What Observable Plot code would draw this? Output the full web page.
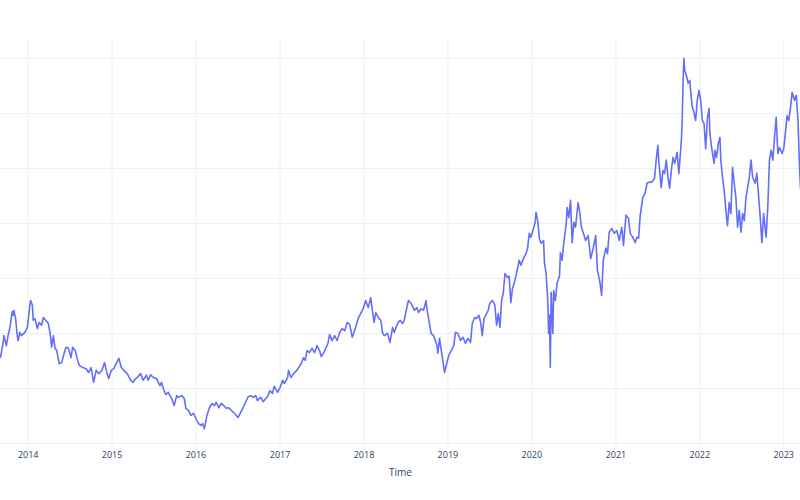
<!DOCTYPE html>
<html>
<head>
<meta charset="utf-8">
<script src="https://cdn.jsdelivr.net/npm/d3@7"></script>
<script src="https://cdn.jsdelivr.net/npm/@observablehq/plot@0.6"></script>
<style>
  html, body { margin: 0; padding: 0; background: #ffffff; }
  #chart svg { display: block; }
</style>
</head>
<body>
<div id="chart"></div>
<script>
// Time as decimal years
const times = [
  2013.67,2013.70,2013.71,2013.74,2013.76,2013.78,2013.81,2013.82,2013.83,2013.85,2013.87,2013.88,2013.90,2013.92,2013.96,2013.99,
  2014.02,2014.03,2014.05,2014.06,2014.08,2014.11,2014.13,2014.16,2014.18,2014.21,2014.24,2014.26,2014.28,2014.30,2014.32,2014.34,
  2014.37,2014.40,2014.43,2014.45,2014.48,2014.51,2014.53,2014.56,2014.59,2014.61,2014.65,2014.69,2014.72,2014.75,2014.78,2014.81,
  2014.84,2014.88,2014.91,2014.94,2014.96,2014.99,2015.02,2015.05,2015.08,2015.11,2015.14,2015.18,2015.22,2015.25,2015.28,2015.30,
  2015.34,2015.37,2015.41,2015.43,2015.46,2015.49,2015.53,2015.57,2015.59,2015.61,2015.64,2015.67,
  2015.69,2015.71,2015.74,2015.77,2015.79,2015.83,2015.86,2015.88,2015.91,2015.94,2015.97,2016.00,2016.03,2016.06,2016.08,2016.10,
  2016.13,2016.16,2016.19,2016.22,2016.24,2016.27,2016.30,2016.33,2016.36,2016.39,2016.42,2016.45,2016.48,2016.50,2016.53,2016.56,
  2016.59,2016.62,2016.65,2016.68,2016.71,2016.73,2016.77,2016.80,2016.83,2016.85,2016.88,2016.91,2016.93,2016.97,2017.00,2017.03,
  2017.05,2017.09,2017.10,2017.13,2017.16,2017.20,2017.22,2017.25,2017.28,2017.30,2017.32,2017.35,2017.38,2017.41,2017.44,2017.47,
  2017.49,2017.52,2017.55,2017.57,2017.59,
  2017.62,2017.65,2017.68,2017.71,2017.74,2017.77,2017.80,2017.83,2017.86,2017.90,2017.93,2017.96,2017.99,2018.02,2018.05,2018.08,
  2018.10,2018.12,2018.14,2018.17,2018.20,2018.22,2018.24,2018.28,2018.31,2018.34,2018.36,2018.40,2018.43,2018.46,2018.48,2018.51,
  2018.53,2018.56,2018.60,2018.63,2018.65,2018.68,2018.71,2018.74,2018.75,2018.78,2018.80,2018.83,2018.87,2018.88,2018.90,2018.93,
  2018.96,2018.98,2019.01,2019.04,2019.07,2019.09,2019.12,2019.15,2019.18,2019.21,2019.24,2019.27,2019.29,2019.32,2019.34,2019.37,
  2019.39,
  2019.41,2019.43,2019.45,2019.48,2019.50,2019.53,2019.56,2019.58,2019.60,2019.62,2019.64,2019.66,2019.68,2019.71,2019.73,2019.75,
  2019.77,2019.79,2019.82,2019.85,2019.87,2019.90,2019.93,2019.95,2019.97,2019.99,2020.02,2020.04,2020.05,2020.07,2020.09,2020.11,
  2020.14,2020.15,2020.17,2020.19,2020.20,2020.21,2020.22,2020.23,2020.25,2020.26,2020.28,2020.30,2020.33,2020.34,2020.36,2020.38,
  2020.41,2020.42,2020.44,2020.46,2020.48,2020.50,2020.52,2020.55,2020.57,2020.59,2020.61,2020.64,2020.67,2020.70,2020.73,2020.76,
  2020.78,2020.81,2020.83,2020.85,2020.88,2020.90,2020.92,2020.95,2020.98,2021.01,2021.04,2021.07,2021.09,2021.12,2021.15,2021.17,
  2021.20,2021.23,2021.25,2021.27,2021.29,2021.32,2021.35,
  2021.37,2021.40,2021.43,2021.46,2021.48,2021.50,2021.51,2021.54,2021.56,2021.58,2021.60,2021.62,2021.64,2021.66,2021.68,2021.70,
  2021.73,2021.75,2021.78,2021.79,2021.80,2021.81,2021.82,2021.84,2021.86,2021.88,2021.89,2021.91,2021.93,2021.95,2021.97,2021.99,
  2022.01,2022.03,2022.05,2022.07,2022.09,2022.11,2022.12,2022.14,2022.17,2022.18,2022.20,2022.22,2022.24,2022.25,2022.27,2022.29,
  2022.31,2022.33,2022.35,2022.37,2022.39,2022.41,2022.43,2022.45,2022.47,2022.49,2022.51,2022.53,2022.55,2022.57,2022.59,2022.61,
  2022.63,2022.66,2022.68,2022.70,2022.72,2022.74,2022.76,2022.79,2022.81,2022.83,2022.85,2022.87,2022.89,2022.91,2022.93,2022.95,
  2022.98,2023.00,2023.02,2023.04,2023.06,2023.08,2023.10,2023.13,2023.15,2023.17,2023.19,2023.20
];

const values = [
  35.7,38.2,39.6,37.8,39.6,40.9,44.0,43.3,44.2,42.7,39.6,38.7,40.2,39.6,40.2,41.1,
  45.1,46.0,45.1,42.4,42.7,40.9,42.0,41.5,42.9,42.4,41.8,40.2,37.5,39.6,37.3,36.9,
  34.5,34.7,36.5,37.5,37.3,35.6,37.5,36.9,35.1,34.2,33.8,33.6,32.9,33.8,31.1,33.3,
  32.7,33.3,34.7,32.7,31.8,33.3,33.6,34.5,35.5,33.8,33.3,32.7,31.5,31.1,31.8,32.0,
  32.7,31.5,32.4,31.5,32.5,32.0,31.8,30.5,31.1,30.0,28.9,29.3,
  28.7,28.2,26.9,28.7,28.4,28.7,28.2,26.4,26.0,25.1,25.5,24.5,23.6,23.3,23.6,22.7,
  25.1,26.5,27.3,26.9,27.5,26.5,27.3,26.9,26.4,26.5,26.0,25.6,25.1,24.7,25.6,26.5,
  27.5,28.5,28.7,28.4,28.7,27.8,28.4,27.6,28.2,28.5,29.6,29.1,30.4,29.3,30.2,31.5,
  30.9,32.0,33.3,32.0,32.7,33.3,33.8,34.5,35.6,35.1,36.9,36.5,37.3,36.5,37.8,36.9,
  35.8,36.5,37.5,38.2,39.8,
  38.7,39.6,38.7,40.2,40.9,40.5,42.0,41.6,39.3,41.1,42.7,43.6,44.5,46.0,44.7,46.5,
  44.2,42.0,43.8,42.9,42.4,40.2,39.6,40.0,38.4,41.1,40.2,41.8,42.4,41.8,42.4,44.7,
  46.0,45.5,44.2,44.7,43.8,44.5,44.2,46.0,44.5,41.8,40.0,39.6,37.8,36.4,39.1,36.0,
  32.9,34.2,36.0,36.9,37.8,40.2,40.0,38.7,39.3,38.2,39.1,38.4,41.8,42.9,42.7,43.3,
  42.0,
  39.6,42.7,43.3,44.2,45.5,46.0,45.1,41.5,43.6,41.1,46.0,47.3,50.9,50.2,50.4,45.6,
  48.2,49.1,51.1,53.3,52.4,53.6,54.5,55.5,58.2,57.5,59.1,60.2,62.0,60.5,57.3,56.4,
  56.9,52.9,50.9,46.0,40.0,43.3,33.8,47.5,40.0,47.8,46.0,49.1,50.5,54.7,53.3,56.4,
  60.0,62.9,61.1,64.2,56.5,60.2,59.3,63.8,62.0,59.3,58.4,56.9,57.8,53.6,55.5,57.8,
  51.5,49.3,46.9,53.3,55.5,54.5,58.4,59.1,58.2,58.7,56.9,59.3,56.0,61.5,60.9,58.2,
  57.5,56.5,57.5,57.3,61.5,64.7,65.6,
  67.3,67.5,67.5,68.2,71.5,74.2,71.5,66.5,69.6,69.1,71.5,68.4,66.4,69.6,72.0,70.9,
  72.9,69.1,75.1,78.7,85.5,90.0,87.8,86.9,85.5,86.0,84.2,81.1,80.2,78.7,82.4,84.2,
  82.4,78.7,78.2,73.6,79.1,80.9,76.4,73.8,70.9,73.3,72.0,74.5,75.6,71.5,68.4,66.0,
  62.4,59.6,63.8,61.8,70.2,67.3,64.7,59.3,62.4,58.4,61.8,60.5,64.7,66.5,68.4,71.5,
  68.4,67.3,69.1,65.1,61.1,56.5,61.8,57.5,62.9,71.5,73.3,71.5,75.6,79.3,72.7,73.8,
  72.7,73.6,76.4,79.6,78.7,80.9,83.8,82.4,83.3,78.7,69.6,66.5
];

const yearTicks = [2014, 2015, 2016, 2017, 2018, 2019, 2020, 2021, 2022, 2023];
const valueGrid = [20, 30, 40, 50, 60, 70, 80, 90];

function toDate(t) {
  const y = Math.floor(t);
  const a = Date.UTC(y, 0, 1), b = Date.UTC(y + 1, 0, 1);
  return new Date(a + (t - y) * (b - a));
}

const data = times.map((t, i) => ({ date: toDate(t), value: values[i] }));
const tickDates = yearTicks.map(y => new Date(Date.UTC(y, 0, 1)));

const chart = Plot.plot({
  width: 800,
  height: 500,
  marginTop: 37.5,
  marginBottom: 51.5,
  marginLeft: 0,
  marginRight: 0,
  style: { background: "#ffffff", fontFamily: "'Open Sans', 'DejaVu Sans', sans-serif" },
  x: { type: "utc", domain: [data[0].date, data[data.length - 1].date], axis: null },
  y: { domain: [19, 93.7], axis: null },
  marks: [
    Plot.gridX(tickDates, { stroke: "#ebf0f8", strokeOpacity: 1, strokeWidth: 1 }),
    Plot.gridY(valueGrid, { stroke: "#ebf0f8", strokeOpacity: 1, strokeWidth: 1 }),
    Plot.line(data, { x: "date", y: "value", stroke: "#636efa", strokeWidth: 1.6, curve: "linear" }),
    Plot.axisX(tickDates, {
      tickFormat: d3.utcFormat("%Y"),
      tickSize: 0,
      tickPadding: 3,
      fontSize: 9,
      color: "#2a3f5f",
      label: null
    }),
    Plot.text(["Time"], {
      frameAnchor: "bottom",
      dy: 27,
      text: d => d,
      fontSize: 10,
      fill: "#2a3f5f"
    })
  ]
});

document.getElementById("chart").appendChild(chart);
</script>
</body>
</html>
